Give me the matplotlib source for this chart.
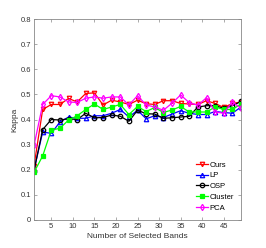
import numpy as np
import matplotlib
matplotlib.use('Agg')
import matplotlib.pyplot as plt

# Number of selected bands
bands = list(range(1, 50, 2))

# Kappa values
ours = [0.216, 0.44, 0.46, 0.46, 0.484, 0.47, 0.504, 0.506, 0.458, 0.477, 0.47, 0.46, 0.477,
        0.463, 0.46, 0.475, 0.475, 0.464, 0.462, 0.46, 0.475, 0.464, 0.448, 0.464, 0.47]
lp = [0.20, 0.35, 0.345, 0.39, 0.41, 0.405, 0.405, 0.415, 0.415, 0.425, 0.44, 0.41, 0.437,
      0.403, 0.415, 0.408, 0.422, 0.435, 0.425, 0.42, 0.42, 0.432, 0.428, 0.425, 0.45]
osp = [0.197, 0.36, 0.40, 0.398, 0.403, 0.40, 0.425, 0.407, 0.408, 0.418, 0.413, 0.393, 0.437,
       0.423, 0.422, 0.405, 0.407, 0.41, 0.413, 0.45, 0.455, 0.455, 0.445, 0.455, 0.472]
cluster = [0.19, 0.255, 0.358, 0.365, 0.398, 0.415, 0.44, 0.462, 0.44, 0.45, 0.46, 0.42, 0.452,
           0.432, 0.448, 0.428, 0.438, 0.452, 0.43, 0.43, 0.43, 0.45, 0.44, 0.44, 0.462]
pca = [0.297, 0.46, 0.495, 0.49, 0.47, 0.468, 0.485, 0.49, 0.485, 0.49, 0.49, 0.458, 0.495,
       0.458, 0.45, 0.437, 0.465, 0.498, 0.467, 0.457, 0.487, 0.43, 0.425, 0.47, 0.445]

plt.rcParams['font.family'] = ['Liberation Sans', 'DejaVu Sans']

fig = plt.figure(figsize=(2.66, 2.48), dpi=100)
ax = fig.add_axes([0.128, 0.113, 0.778, 0.81])

ms = 3.2
ax.plot(bands, ours, color='#ff0000', marker='v', ms=ms, lw=0.9, mfc='none', mew=0.9, label='Ours')
ax.plot(bands, lp, color='#0000ff', marker='^', ms=ms, lw=0.9, mfc='none', mew=0.9, label='LP')
ax.plot(bands, osp, color='#000000', marker='o', ms=ms, lw=0.9, mfc='none', mew=0.9, label='OSP')
ax.plot(bands, cluster, color='#00ff00', marker='s', ms=ms * 0.8, lw=0.9, mfc='#00ff00', mew=0.9,
        label='Cluster')
ax.plot(bands, pca, color='#ff00ff', marker='d', ms=ms, lw=0.9, mfc='none', mew=0.9, label='PCA')

ax.set_xlim(1, 49)
ax.set_ylim(0, 0.8)
ax.set_xticks(range(5, 50, 5))
ax.set_yticks(np.arange(0, 0.81, 0.1))
ax.set_yticklabels(['0'] + ['%.1f' % v for v in np.arange(0.1, 0.81, 0.1)])

for s in ax.spines.values():
    s.set_color('#888888')
    s.set_linewidth(0.6)
ax.tick_params(direction='in', length=2.5, width=0.5, labelsize=5.5, colors='#888888',
               labelcolor='#333333', top=True, right=True, pad=2)

ax.set_xlabel('Number of Selected Bands', fontsize=6, color='#333333', labelpad=2)
ax.set_ylabel('Kappa', fontsize=6, color='#333333', labelpad=2)

ax.legend(loc='lower right', frameon=False, fontsize=5.5, handlelength=1.6,
          labelspacing=0.45, handletextpad=0.15, borderaxespad=0, borderpad=0.3,
          bbox_to_anchor=(0.975, 0.03))

fig.savefig('out.png', dpi=100)
